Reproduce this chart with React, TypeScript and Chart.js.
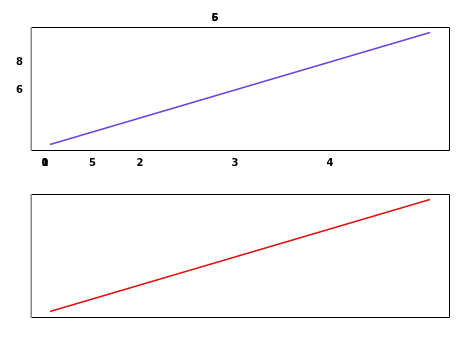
import React, { useEffect, useRef } from "react";
import { Chart, registerables } from "chart.js";

Chart.register(...registerables);

// ---- data ----
const xValues = [1, 2, 3, 4, 5];
const topSeries = [2, 4, 6, 8, 10];
const bottomSeries = [2, 4, 6, 8, 10];
const xTickValues = [1, 1, 1.5, 2, 3, 4];
const xTickLabels = ["0", "1", "5", "2", "3", "4"];
const yTickValues = [8, 6];
const yTickLabels = ["8", "6"];
const titleTexts = ["5", "6"];

const FONT = { family: "DejaVu Sans", size: 10, weight: "bold" as const };

const framePlugin = {
  id: "frame",
  afterDraw(chart: any) {
    const { ctx, chartArea: a } = chart;
    ctx.save();
    ctx.lineWidth = 1;
    ctx.strokeStyle = "#000";
    ctx.beginPath();
    ctx.moveTo(a.left, a.top + 0.5);
    ctx.lineTo(a.right + 0.5, a.top + 0.5);
    ctx.lineTo(a.right + 0.5, a.bottom + 0.5);
    ctx.lineTo(a.left, a.bottom + 0.5);
    ctx.stroke();
    ctx.strokeStyle = "#888";
    ctx.lineWidth = 1.5;
    ctx.beginPath();
    ctx.moveTo(a.left + 0.25, a.top);
    ctx.lineTo(a.left + 0.25, a.bottom + 1);
    ctx.stroke();
    ctx.restore();
  },
};

const overlapTitlePlugin = {
  id: "overlapTitle",
  afterDraw(chart: any, _args: any, opts: any) {
    if (!opts || !opts.texts) return;
    const { ctx, chartArea: a } = chart;
    ctx.save();
    ctx.font = "bold 10px 'DejaVu Sans'";
    ctx.fillStyle = "#000";
    ctx.textAlign = "center";
    ctx.textBaseline = "middle";
    const x = a.left + (a.right - a.left) * 0.44;
    const y = a.top - 9;
    for (const t of opts.texts) ctx.fillText(t, x, y);
    ctx.restore();
  },
};

function makePoints(ys: number[]) {
  return xValues.map((x, i) => ({ x, y: ys[i] }));
}

function TopChart() {
  const ref = useRef<HTMLCanvasElement>(null);
  useEffect(() => {
    const chart = new Chart(ref.current!, {
      type: "line",
      data: {
        datasets: [
          {
            data: makePoints(topSeries),
            borderColor: "#6a44dc",
            borderWidth: 1.5,
            pointRadius: 0,
            fill: false,
          },
        ],
      },
      options: {
        animation: false,
        responsive: false,
        events: [],
        layout: { padding: { left: 0, right: 11, top: 27, bottom: 0 } },
        plugins: {
          legend: { display: false },
          tooltip: { enabled: false },
          title: { display: false },
          overlapTitle: { texts: titleTexts },
        } as any,
        scales: {
          x: {
            type: "linear",
            min: 0.8,
            max: 5.2,
            grid: { display: false, drawTicks: false },
            border: { display: false },
            ticks: {
              padding: 7,
              labelOffset: -5,
              color: "#000",
              font: FONT,
              autoSkip: false,
              maxRotation: 0,
              callback: (_v: any, i: number) => xTickLabels[i],
            },
            afterBuildTicks: (s: any) => {
              s.ticks = xTickValues.map((v) => ({ value: v }));
            },
            afterFit: (s: any) => {
              s.height = 22;
            },
          },
          y: {
            type: "linear",
            min: 1.6,
            max: 10.4,
            grid: { display: false, drawTicks: false },
            border: { display: false },
            ticks: {
              padding: 8,
              labelOffset: 2,
              color: "#000",
              font: FONT,
              autoSkip: false,
              callback: (_v: any, i: number) => yTickLabels[i],
            },
            afterBuildTicks: (s: any) => {
              s.ticks = yTickValues.map((v) => ({ value: v }));
            },
            afterFit: (s: any) => {
              s.width = 31;
            },
          },
        },
      },
      plugins: [framePlugin, overlapTitlePlugin],
    });
    return () => chart.destroy();
  }, []);
  return <canvas ref={ref} width={460} height={172} style={{ display: "block" }} />;
}

function BottomChart() {
  const ref = useRef<HTMLCanvasElement>(null);
  useEffect(() => {
    const chart = new Chart(ref.current!, {
      type: "line",
      data: {
        datasets: [
          {
            data: makePoints(bottomSeries),
            borderColor: "#e01010",
            borderWidth: 1.5,
            pointRadius: 0,
            fill: false,
          },
        ],
      },
      options: {
        animation: false,
        responsive: false,
        events: [],
        layout: { padding: { left: 31, right: 11, top: 22, bottom: 28 } },
        plugins: {
          legend: { display: false },
          tooltip: { enabled: false },
          title: { display: false },
        },
        scales: {
          x: { type: "linear", min: 0.8, max: 5.2, display: false },
          y: { type: "linear", min: 1.6, max: 10.4, display: false },
        },
      },
      plugins: [framePlugin],
    });
    return () => chart.destroy();
  }, []);
  return <canvas ref={ref} width={460} height={173} style={{ display: "block" }} />;
}

export default function App() {
  return (
    <div
      style={{
        position: "fixed",
        left: 0,
        top: 0,
        width: 460,
        height: 345,
        background: "#fff",
      }}
    >
      <TopChart />
      <BottomChart />
    </div>
  );
}
